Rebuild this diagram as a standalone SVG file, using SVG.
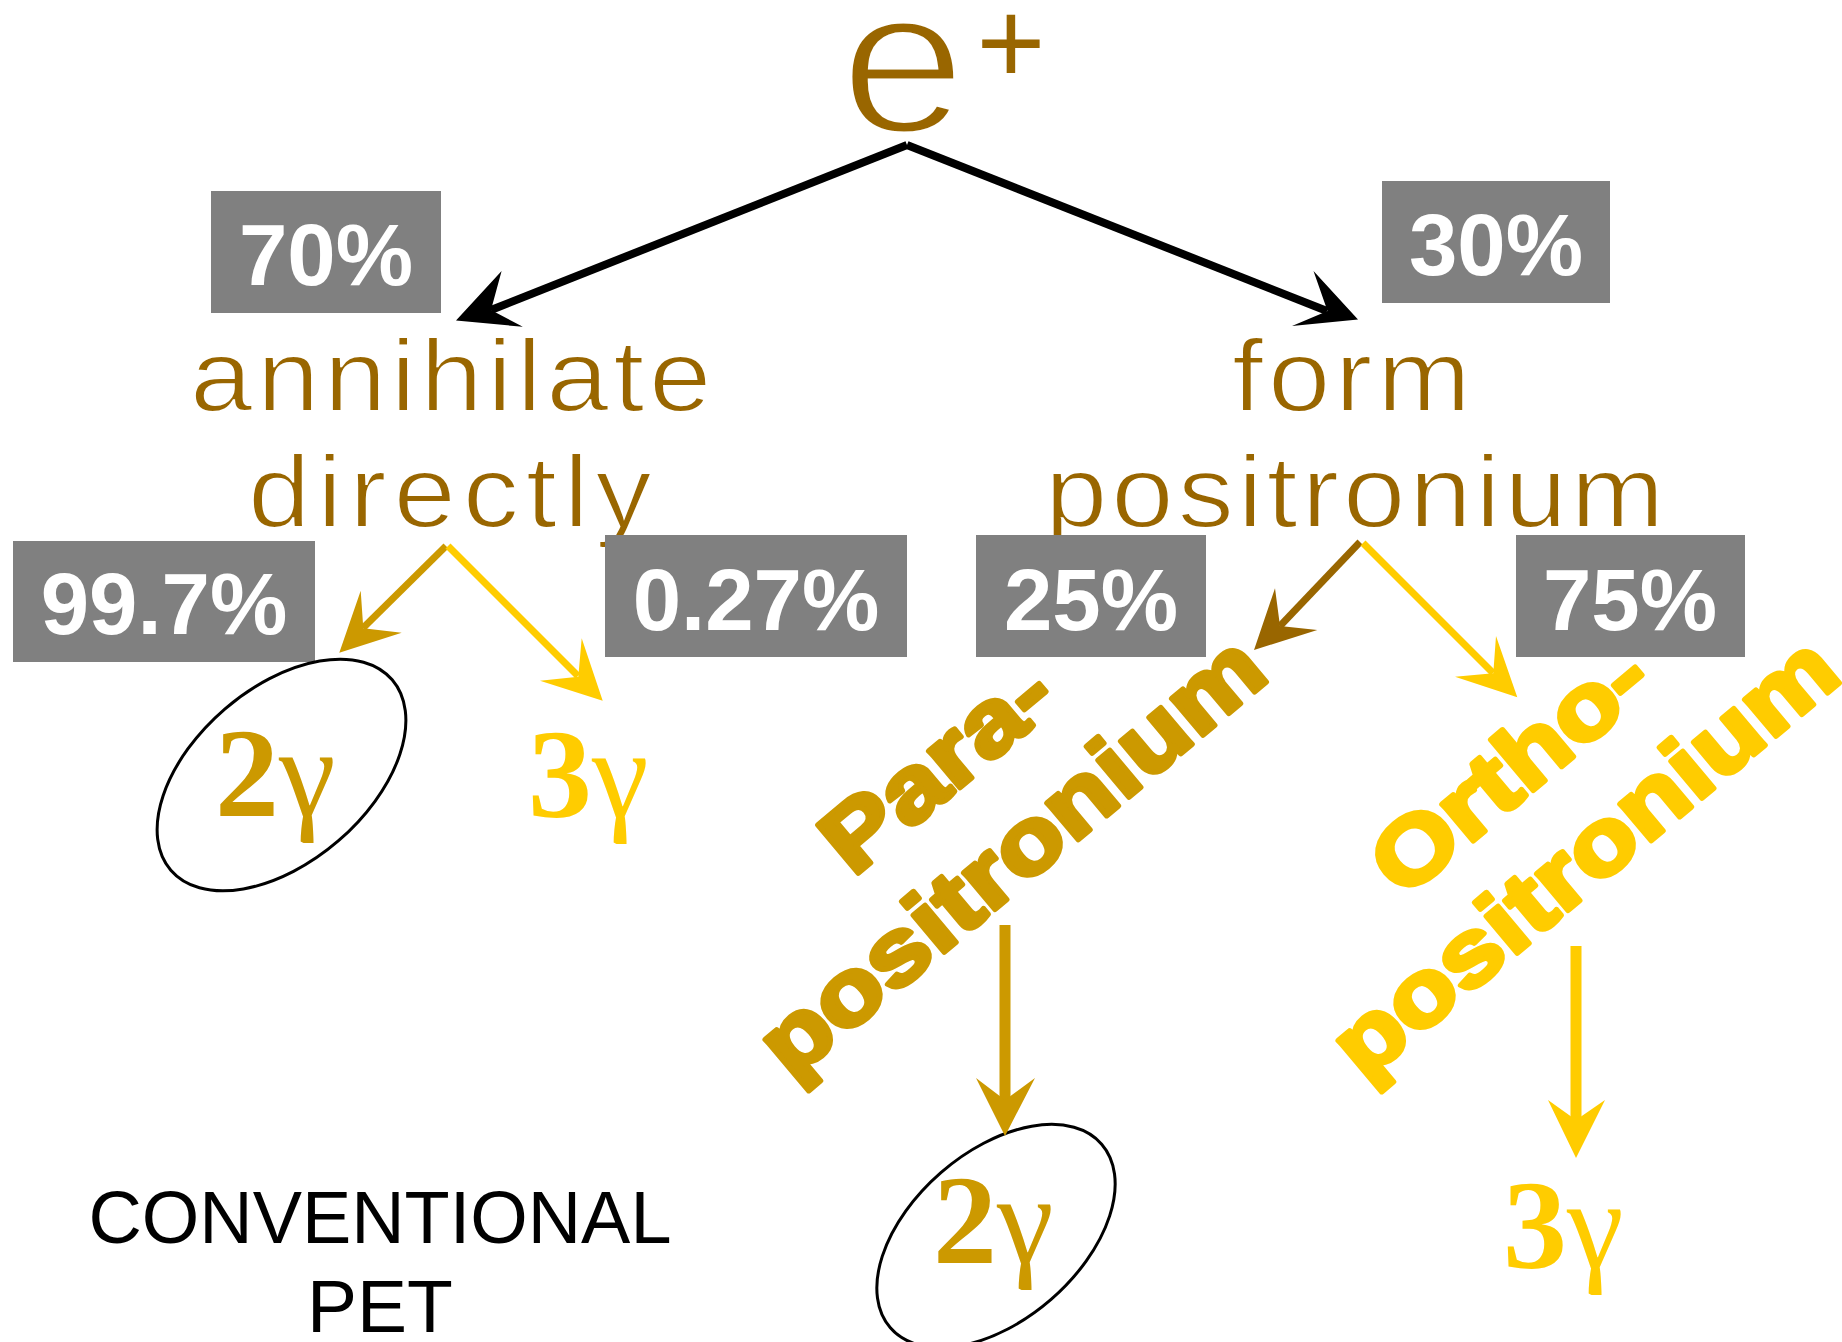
<svg xmlns="http://www.w3.org/2000/svg" width="1842" height="1342" viewBox="0 0 1842 1342">
<style>
.lbl{font-family:"Liberation Sans",Arial,sans-serif;fill:#996600;font-size:102px;stroke:#ffffff;stroke-width:2}
.pct{font-family:"Liberation Sans",Arial,sans-serif;font-weight:bold;font-size:87px;fill:#ffffff;text-anchor:middle}
.box{fill:#808080}
.gam{font-family:"Liberation Serif","Times New Roman",serif;font-weight:bold;font-size:128px}
.gg{font-weight:normal}
.rot{font-family:"Liberation Sans",Arial,sans-serif;font-weight:bold;font-size:92px;stroke-width:5;stroke-linejoin:round}
.blk{font-family:"Liberation Sans",Arial,sans-serif;font-size:75px;fill:#000000;text-anchor:middle}
.ell{fill:none;stroke:#000000;stroke-width:3}
.gold{fill:#CC9900;stroke:#CC9900}
.yel{fill:#FFCC00;stroke:#FFCC00}
.brn{fill:#996600}
.ah{stroke:none}
</style>
<rect width="1842" height="1342" fill="#ffffff"/>

<g id="positron">
<text class="lbl" style="font-size:206px;stroke-width:5" transform="translate(840,132) scale(1.1,1)">e</text>
<text class="lbl" style="font-size:118px;stroke:none" x="976.5" y="83">+</text>
</g>

<g id="annihilate">
<text class="lbl" transform="translate(190,411) scale(1.1,1)" textLength="474" lengthAdjust="spacing">annihilate</text>
<text class="lbl" transform="translate(248,527) scale(1.1,1)" textLength="367" lengthAdjust="spacing">directly</text>
</g>

<g id="form">
<text class="lbl" transform="translate(1232,411) scale(1.1,1)" textLength="217" lengthAdjust="spacing">form</text>
<text class="lbl" transform="translate(1045,527) scale(1.1,1)" textLength="563" lengthAdjust="spacing">positronium</text>
</g>

<g id="p70"><rect class="box" x="211" y="191" width="230" height="122"/><text class="pct" x="326" y="285">70%</text></g>
<g id="p30"><rect class="box" x="1382" y="181" width="228" height="122"/><text class="pct" x="1496" y="275">30%</text></g>
<g id="p997"><rect class="box" x="13" y="541" width="302" height="121"/><text class="pct" x="164" y="634">99.7%</text></g>
<g id="p027"><rect class="box" x="605" y="535" width="302" height="122"/><text class="pct" x="756" y="629.5">0.27%</text></g>
<g id="p25"><rect class="box" x="976" y="535" width="230" height="122"/><text class="pct" x="1091" y="629.5">25%</text></g>
<g id="p75"><rect class="box" x="1516" y="535" width="229" height="122"/><text class="pct" x="1630" y="629.5">75%</text></g>

<g id="para">
<text class="rot gold" transform="translate(852.9,877.8) rotate(-40) scale(1.18,1)">Para-</text>
<text class="rot gold" transform="translate(791,1081) rotate(-40) scale(1.18,1)">positronium</text>
</g>
<g id="ortho">
<text class="rot yel" transform="translate(1403,900) rotate(-40) scale(1.18,1)">Ortho-</text>
<text class="rot yel" transform="translate(1364,1082) rotate(-40) scale(1.18,1)">positronium</text>
</g>

<g id="g2a">
<ellipse class="ell" cx="281.5" cy="775" rx="146" ry="87" transform="rotate(-40.7 281.5 775)"/>
<text class="gam gold ah" x="215" y="816">2<tspan class="gg">γ</tspan></text>
</g>
<g id="g3a"><text class="gam yel ah" x="528" y="817">3<tspan class="gg">γ</tspan></text></g>
<g id="g2b">
<ellipse class="ell" cx="996" cy="1236" rx="140" ry="84" transform="rotate(-41 996 1236)"/>
<text class="gam gold ah" x="933" y="1263">2<tspan class="gg">γ</tspan></text>
</g>
<g id="g3b"><text class="gam yel ah" x="1503" y="1268">3<tspan class="gg">γ</tspan></text></g>

<g id="pet">
<text class="blk" x="380" y="1243" textLength="583" lengthAdjust="spacingAndGlyphs">CONVENTIONAL</text>
<text class="blk" x="380" y="1332">PET</text>
</g>

<g id="connectors">
<line x1="907" y1="145" x2="491" y2="310" stroke="#000" stroke-width="8"/>
<polygon fill="#000" points="456,320.5 501.6,271 491,310 522.8,326.8"/>
<line x1="907" y1="145" x2="1327" y2="311" stroke="#000" stroke-width="8"/>
<polygon fill="#000" points="1358,319.6 1313.5,271 1327.5,311 1292,326"/>

<line x1="446" y1="546" x2="363" y2="628" stroke="#CC9900" stroke-width="7"/>
<polygon class="gold ah" points="339.3,652.7 360.7,590.7 363.3,628.3 401.7,632.7"/>
<line x1="448" y1="546" x2="578" y2="676" stroke="#FFCC00" stroke-width="7"/>
<polygon class="yel ah" points="602.7,700.7 581.7,638.3 578.3,676.7 540,680.7"/>

<line x1="1360" y1="542" x2="1280" y2="626" stroke="#996600" stroke-width="7"/>
<polygon class="brn" points="1254,650 1275,588.3 1280,626 1317.3,630"/>
<line x1="1363" y1="543" x2="1493" y2="673" stroke="#FFCC00" stroke-width="7"/>
<polygon class="yel ah" points="1517.3,697.3 1496,636 1493.3,673.3 1455,676.7"/>

<line x1="1005" y1="925" x2="1005" y2="1100" stroke="#CC9900" stroke-width="11"/>
<polygon class="gold ah" points="1005,1136 976,1078 1005,1100 1035,1078"/>
<line x1="1576" y1="946" x2="1576" y2="1120" stroke="#FFCC00" stroke-width="11"/>
<polygon class="yel ah" points="1576,1158 1548,1100 1576,1120 1605,1100"/>
</g>
</svg>
